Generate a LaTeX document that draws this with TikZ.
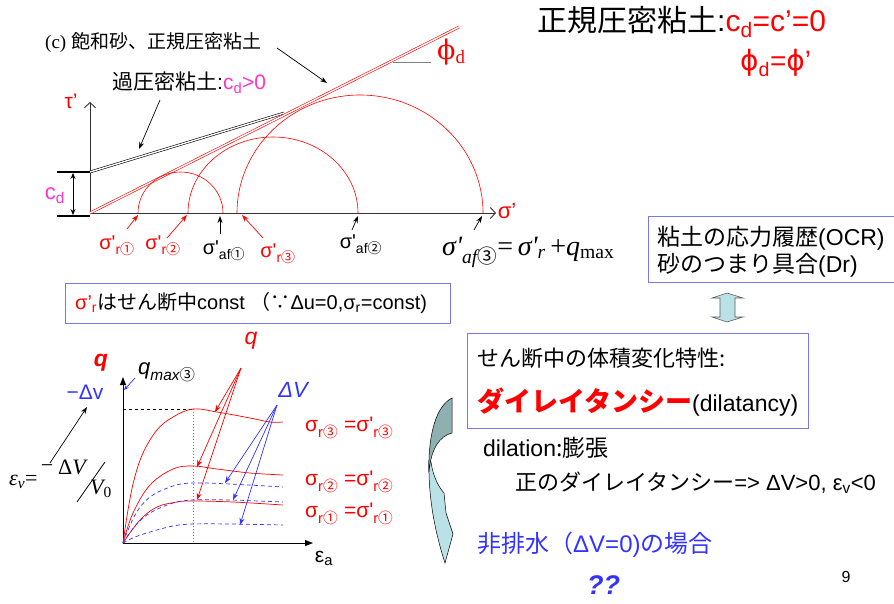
\documentclass[tikz,border=0pt]{standalone}
\usepackage{fontspec}
\setmainfont{Liberation Sans}
\newfontfamily\jp{Noto Sans CJK JP}
\newfontfamily\serif{Liberation Serif}
\newfontfamily\dvs{DejaVu Sans}
\newfontfamily\dvserif{DejaVu Serif}
\usetikzlibrary{arrows.meta}
\newcommand\J[1]{{\jp #1}}
\newcommand\fsz[1]{\fontsize{#1}{#1}\selectfont}
\newcommand\lo[1]{\textsubscript{#1}}
\newcommand\sq{\textquotesingle}
\definecolor{mag}{RGB}{255,51,204}
\definecolor{bl}{RGB}{51,51,255}
\definecolor{boxb}{RGB}{120,120,235}
\definecolor{darkteal}{RGB}{143,176,176}
\definecolor{lightteal}{RGB}{186,226,230}
\definecolor{axisgray}{RGB}{50,50,50}
\begin{document}
\begin{tikzpicture}[x=1pt,y=-1pt,
  lbl/.style={inner sep=0pt, anchor=west},
  ctr/.style={inner sep=0pt},
  dblred/.style={draw=red, line width=0.6pt, double=white, double distance=1.4pt},
  dblblack/.style={draw=black, line width=0.6pt, double=white, double distance=1.4pt},
  arr/.style={-{Stealth[length=7pt,width=5pt]}, line width=0.7pt},
  axisopen/.style={line width=0.9pt, draw=axisgray, -{Straight Barb[length=5pt,width=11pt]}},
  axisfill/.style={line width=0.9pt, -{Triangle[length=8pt,width=6pt]}},
  mohr/.style={draw=red, line width=0.6pt},
  qcurve/.style={draw=red, line width=0.7pt},
  vcurve/.style={draw=bl, line width=0.7pt, dash pattern=on 4pt off 3pt},
  boxstyle/.style={draw=boxb, line width=0.9pt, inner sep=0pt},
  bigarrow/.style={draw=black, line width=0.5pt},
]
\useasboundingbox (0,0) rectangle (894,603);

% ---------------- top graph ----------------
\coordinate (O) at (90,213);
\coordinate (tauTop) at (90,102);
\coordinate (sigEnd) at (496,213);
\draw[axisopen] (O) -- (tauTop);
\draw[axisopen] (O) -- (sigEnd);
\node[ctr, text=red, font=\fsz{21}] (taulab) at (71,101) {τ’};
\node[ctr, text=red, font=\fsz{22}] (siglab) at (507,211) {σ’};

% c_d
\coordinate (cdTopL) at (57,172); \coordinate (cdTopR) at (90,172);
\coordinate (cdBotL) at (57,216); \coordinate (cdBotR) at (90,216);
\draw[line width=1.1pt] (cdTopL) -- (cdTopR);
\draw[line width=1.1pt] (cdBotL) -- (cdBotR);
\coordinate (cdA) at (73,173); \coordinate (cdB) at (73,215);
\draw[{Stealth[length=6pt,width=5pt]}-{Stealth[length=6pt,width=5pt]}, line width=0.7pt] (cdA) -- (cdB);
\node[ctr, text=mag, font=\fsz{22}] (cdlab) at (55,196) {c\lo{d}};

% envelopes
\coordinate (ocStart) at (90,172); \coordinate (ocEnd) at (284,113);
\draw[dblblack] (ocStart) -- (ocEnd);
\coordinate (ncEnd) at (459,27);
\draw[dblred] (O) -- (ncEnd);

% phi_d
\coordinate (phiA) at (393,62); \coordinate (phiB) at (431,62);
\draw[gray, line width=0.8pt] (phiA) -- (phiB);
\node[lbl, text=red, font=\fsz{27}] (philab) at (437,52) {{\dvserif ϕ}{\serif\lo{d}}};

% Mohr circles
\draw[mohr] (138,213) arc[start angle=180, end angle=360, x radius=42.5, y radius=41];
\draw[mohr] (188,213) arc[start angle=180, end angle=360, x radius=85, y radius=76];
\draw[mohr] (237,213) arc[start angle=180, end angle=360, x radius=123, y radius=118];

% labels on top
\node[lbl, font=\fsz{19}] (clab) at (45,43) {{\serif (c)} \J{飽和砂、正規圧密粘土}};
\coordinate (cArrS) at (277,48); \coordinate (cArrE) at (327,83);
\draw[arr] (cArrS) -- (cArrE);
\node[lbl, font=\fsz{21}] (oclab) at (112,83) {\J{過圧密粘土}:\textcolor{mag}{c\lo{d}>0}};
\coordinate (ocArrS) at (160,100); \coordinate (ocArrE) at (139,149);
\draw[arr] (ocArrS) -- (ocArrE);

% sigma labels under axis
\coordinate (r1t) at (138,215); \coordinate (r1s) at (127,229);
\draw[arr, red] (r1s) -- (r1t);
\node[ctr, text=red, font=\fsz{20}] (r1lab) at (117,246) {σ\sq\lo{r\J{①}}};
\coordinate (r2t) at (187,215); \coordinate (r2s) at (167,238);
\draw[arr, red] (r2s) -- (r2t);
\node[ctr, text=red, font=\fsz{20}] (r2lab) at (163,246) {σ\sq\lo{r\J{②}}};
\coordinate (a1t) at (220,216); \coordinate (a1s) at (220,234);
\draw[arr] (a1s) -- (a1t);
\node[ctr, font=\fsz{20}] (a1lab) at (224,251) {σ\sq\lo{af\J{①}}};
\coordinate (r3t) at (242,215); \coordinate (r3s) at (263,238);
\draw[arr, red] (r3s) -- (r3t);
\node[ctr, text=red, font=\fsz{20}] (r3lab) at (278,254) {σ\sq\lo{r\J{③}}};
\coordinate (a2t) at (358,216); \coordinate (a2s) at (352,230);
\draw[arr] (a2s) -- (a2t);
\node[ctr, font=\fsz{20}] (a2lab) at (361,245) {σ\sq\lo{af\J{②}}};
\coordinate (a3t) at (482,216); \coordinate (a3s) at (474,230);
\draw[arr] (a3s) -- (a3t);
\node[lbl, font=\serif\fsz{28}] (a3lab) at (442,252) {\itshape σ\sq\lo{af\J{③}}\upshape=\,\itshape σ\sq\lo{r}\upshape\,+\itshape q\upshape\lo{max}};

% ---------------- top right ----------------
\node[lbl, font=\fsz{30}] (title) at (537,22) {\J{正規圧密粘土}:\textcolor{red}{c\lo{d}=c’=0}};
\node[lbl, text=red, font=\fsz{28}] (title2) at (740,63) {{\dvs ϕ}\lo{d}={\dvs ϕ}’};

% box 1
\node[boxstyle, anchor=north west, minimum width=252pt, minimum height=66pt] (box1) at (648,216) {};
\node[lbl, font=\fsz{23}] (box1a) at (657,238) {\J{粘土の応力履歴}(OCR)};
\node[lbl, font=\fsz{23}] (box1b) at (657,265) {\J{砂のつまり具合}(Dr)};

% up-down block arrow
\draw[draw=gray!70!black, fill=lightteal, line width=0.6pt]
  (727,293) -- (743,298) -- (735,298) -- (735,317) -- (743,317) -- (727,322)
  -- (712,317) -- (720,317) -- (720,298) -- (712,298) -- cycle;

% box 2
\node[boxstyle, anchor=north west, minimum width=385pt, minimum height=40pt] (box2) at (65,283) {};
\node[lbl, font=\fsz{20}] (box2t) at (75,303) {\textcolor{red}{σ’\lo{r}}\J{はせん断中}const \J{（∵}Δu=0,σ\lo{r}=const)};

% box 3
\node[boxstyle, anchor=north west, minimum width=341pt, minimum height=95pt] (box3) at (467,333) {};
\node[lbl, font=\fsz{22}] (box3a) at (477,358) {\J{せん断中の体積変化特性:}};
\node[lbl, font=\fsz{23}] (box3b) at (477,402) {\textcolor{red}{\jp\bfseries\fsz{27}ダイレイタンシー}(dilatancy)};

\node[lbl, font=\fsz{23}] (dil) at (483,448) {dilation\J{:膨張}};
\node[lbl, font=\fsz{22}] (pos) at (515,483) {\J{正のダイレイタンシー}=> ΔV>0, ε\lo{v}<0};
\node[lbl, text=bl, font=\fsz{24}] (undr) at (477,545) {\J{非排水（}ΔV=0)\J{の場合}};
\node[lbl, text=bl, font=\fsz{27}\bfseries\itshape] (qq) at (587,585) {??};
\node[ctr, font=\fsz{16}] (pg) at (846,577) {9};

% curved arrow
\draw[bigarrow, fill=lightteal]
  (429,460) .. controls (428,500) and (436,535) .. (445,563) -- (453,534) -- (446,513) -- (444,493)
  .. controls (438,486) and (433,476) .. (431,462) -- cycle;
\draw[bigarrow, fill=darkteal]
  (452,398) .. controls (436,406) and (428,435) .. (429,472)
  .. controls (431,448) and (440,436) .. (452,433) -- cycle;

% ---------------- bottom-left graph ----------------
\coordinate (O2) at (123,543);
\coordinate (yTop) at (123,377);
\coordinate (xEnd) at (313,543);
\draw[axisfill] (O2) -- (yTop);
\draw[axisfill] (O2) -- (xEnd);
\coordinate (pk) at (193,409);
\coordinate (pkL) at (123,409);
\coordinate (pkB) at (193,543);
\draw[dashed, line width=0.7pt] (pkL) -- (pk);
\draw[gray, dotted, line width=1pt] (pk) -- (pkB);

\draw[qcurve] plot[smooth, tension=0.6] coordinates {(123,543) (128,510) (134,480) (143,453) (157,430) (173,417) (193,409) (217,412) (250,418) (270,422) (283,422)};
\draw[qcurve] plot[smooth, tension=0.6] coordinates {(123,543) (133,513) (150,485) (173,469) (193,466) (217,469) (250,473) (283,475)};
\draw[qcurve] plot[smooth, tension=0.6] coordinates {(123,543) (140,520) (157,507) (177,502) (193,501) (233,502) (283,505)};
\draw[vcurve] plot[smooth, tension=0.6] coordinates {(123,543) (135,515) (150,497) (173,486) (193,483) (230,484) (283,487)};
\draw[vcurve] plot[smooth, tension=0.6] coordinates {(123,543) (135,526) (150,513) (173,503) (193,500) (230,500) (283,502)};
\draw[vcurve] plot[smooth, tension=0.6] coordinates {(123,543) (135,537) (150,532) (173,526) (193,524) (230,524) (283,525)};

\node[ctr, text=red, font=\fsz{23}\bfseries\itshape] (qL) at (101,363) {q};
\node[ctr, text=bl, font=\fsz{21}] (dvL) at (85,392) {−Δv};
\node[lbl, font=\fsz{22}\itshape] (qmax) at (138,372) {q\lo{max\J{③}}};
\coordinate (qmS) at (135,378); \coordinate (qmE) at (124,390);
\draw[arr, bl, -{Stealth[length=5pt,width=4pt]}] (qmS) -- (qmE);
\node[ctr, font=\fsz{21}] (epsa) at (324,558) {ε\lo{a}};

% epsilon_v formula
\node[lbl, font=\serif\fsz{22}] (epsv) at (9,482) {\itshape ε\lo{v}\upshape =};
\node[ctr, font=\serif\fsz{22}] (minus) at (47,469) {−};
\node[lbl, font=\serif\fsz{22}] (dV) at (58,467) {Δ\itshape V};
\coordinate (slA) at (77,502); \coordinate (slB) at (105,462);
\draw[line width=0.8pt] (slA) -- (slB);
\node[lbl, font=\serif\fsz{22}] (V0) at (90,489) {\itshape V\lo{\upshape 0}};
\coordinate (evS) at (50,463); \coordinate (evE) at (87,407);
\draw[arr] (evS) -- (evE);

% q arrows
\node[ctr, text=red, font=\fsz{23}\itshape] (qT) at (251,341) {q};
\coordinate (qS) at (241,368);
\coordinate (q3) at (215,412); \coordinate (q2) at (197,467); \coordinate (q1) at (197,500);
\draw[arr, red] (qS) -- (q3);
\draw[arr, red] (qS) -- (q2);
\draw[arr, red] (qS) -- (q1);
% dV arrows
\node[ctr, text=bl, font=\fsz{22}\itshape] (dVT) at (293,390) {ΔV};
\coordinate (vS) at (277,405);
\coordinate (v3) at (225,483); \coordinate (v2) at (233,500); \coordinate (v1) at (240,525);
\draw[arr, bl] (vS) -- (v3);
\draw[arr, bl] (vS) -- (v2);
\draw[arr, bl] (vS) -- (v1);

% right labels
\node[lbl, text=red, font=\fsz{21}] (s3) at (305,428) {σ\lo{r\J{③}} =σ\sq\lo{r\J{③}}};
\node[lbl, text=red, font=\fsz{21}] (s2) at (305,482) {σ\lo{r\J{②}} =σ\sq\lo{r\J{②}}};
\node[lbl, text=red, font=\fsz{21}] (s1) at (305,514) {σ\lo{r\J{①}} =σ\sq\lo{r\J{①}}};

\end{tikzpicture}
\end{document}
